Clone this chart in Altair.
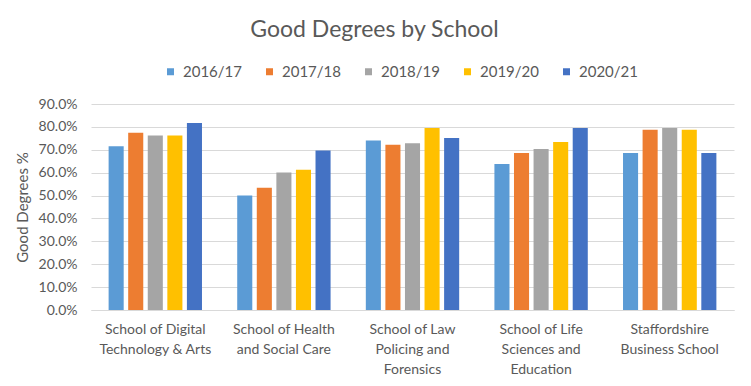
import altair as alt
import pandas as pd

schools = [
    "School of Digital\nTechnology & Arts",
    "School of Health\nand Social Care",
    "School of Law\nPolicing and\nForensics",
    "School of Life\nSciences and\nEducation",
    "Staffordshire\nBusiness School",
]
years = ["2016/17", "2017/18", "2018/19", "2019/20", "2020/21"]
v_2016_17 = [0.715, 0.500, 0.740, 0.638, 0.686]
v_2017_18 = [0.774, 0.534, 0.722, 0.686, 0.787]
v_2018_19 = [0.762, 0.601, 0.728, 0.703, 0.795]
v_2019_20 = [0.762, 0.613, 0.795, 0.734, 0.787]
v_2020_21 = [0.817, 0.697, 0.751, 0.795, 0.686]
colors = ["#5B9BD5", "#ED7D31", "#A5A5A5", "#FFC000", "#4472C4"]

series = [v_2016_17, v_2017_18, v_2018_19, v_2019_20, v_2020_21]
rows = []
for y, vals in zip(years, series):
    for s, v in zip(schools, vals):
        rows.append({"School": s, "Year": y, "Value": v})
df = pd.DataFrame(rows)

FONT = "Lato"
TXT = "#595959"

chart = alt.Chart(df).mark_bar().encode(
    x=alt.X("School:N", sort=schools, title=None,
            scale=alt.Scale(paddingInner=0, paddingOuter=0),
            axis=alt.Axis(labelAngle=0, ticks=False, domainColor="#D9D9D9",
                          labelExpr="split(datum.label, '\\n')",
                          labelLineHeight=20, labelPadding=12,
                          labelFontSize=14, labelColor=TXT, labelFont=FONT)),
    xOffset=alt.XOffset("Year:N", sort=years,
                        scale=alt.Scale(paddingInner=0.23, paddingOuter=0.9)),
    y=alt.Y("Value:Q", title="Good Degrees %",
            scale=alt.Scale(domain=[0, 0.9], nice=False),
            axis=alt.Axis(format=".1%", values=[i / 10 for i in range(10)],
                          domain=False, ticks=False, gridColor="#D9D9D9",
                          labelPadding=14, labelFontSize=14, labelColor=TXT,
                          labelFont=FONT, titleFont=FONT, titleFontSize=15,
                          titleColor=TXT, titleFontWeight="normal",
                          titlePadding=8)),
    color=alt.Color("Year:N", sort=years,
                    scale=alt.Scale(domain=years, range=colors),
                    legend=alt.Legend(title=None, orient="none", direction="horizontal",
                                      legendX=72, legendY=-40,
                                      symbolType="square", symbolSize=49,
                                      symbolStrokeWidth=0, labelFontSize=15,
                                      labelFont=FONT, labelColor=TXT,
                                      columnPadding=20, labelOffset=5)),
).properties(
    width=643, height=206,
    title=alt.Title("Good Degrees by School", fontSize=23, font=FONT,
                    color=TXT, fontWeight="normal", anchor="middle",
                    frame="bounds", offset=22),
    padding={"left": 7, "top": 11, "right": 5, "bottom": 5},
).configure_view(stroke=None)

chart.save("out.html", embed_options={"renderer": "svg", "actions": False})
